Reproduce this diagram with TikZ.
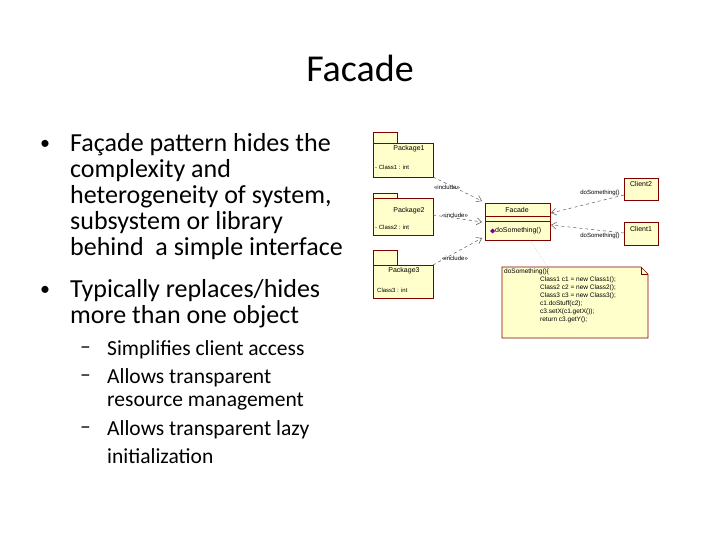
\documentclass[tikz,border=0pt]{standalone}
\usepackage{fontspec}
\setmainfont{Carlito}
\newfontfamily\umlfont{Liberation Sans}
\usetikzlibrary{arrows.meta}
\definecolor{umlfill}{RGB}{255,255,204}
\definecolor{umlline}{RGB}{128,0,0}
\tikzset{
  pkg/.style={draw=umlline,fill=umlfill,line width=0.6pt},
  lbl/.style={font=\umlfont\fontsize{6}{7}\selectfont,inner sep=0pt},
  dep/.style={draw=gray!70!black,dashed,line width=0.5pt,-{Straight Barb[open,length=5pt,width=7pt]}},
  txt/.style={anchor=west,inner sep=0pt,font=\fontsize{26}{30}\selectfont},
  sub/.style={anchor=west,inner sep=0pt,font=\fontsize{21.5}{25}\selectfont}
}
\begin{document}
\begin{tikzpicture}[x=1pt,y=-1pt]
\useasboundingbox (0,0) rectangle (720,540);
\node[font=\fontsize{38}{42}\selectfont] (title) at (360,68) {Facade};
% bullets
\node[txt,font=\fontsize{20}{24}\selectfont] (b1) at (40,145) {•};
\node[txt] (l1) at (70,145) {Façade pattern hides the};
\node[txt] (l2) at (70,171) {complexity and};
\node[txt] (l3) at (70,197) {heterogeneity of system,};
\node[txt] (l4) at (70,223) {subsystem or library};
\node[txt] (l5) at (70,249) {behind\ \ a simple interface};
\node[txt,font=\fontsize{20}{24}\selectfont] (b2) at (40,291) {•};
\node[txt] (l6) at (70,291) {Typically replaces/hides};
\node[txt] (l7) at (70,317) {more than one object};
\node[sub] (d1) at (80,350) {–};
\node[sub] (s1) at (107,350) {Simplifies client access};
\node[sub] (d2) at (80,378) {–};
\node[sub] (s2) at (107,378) {Allows transparent};
\node[sub] (s3) at (107,402) {resource management};
\node[sub] (d3) at (80,430) {–};
\node[sub] (s4) at (107,430) {Allows transparent lazy};
\node[sub] (s5) at (107,456) {initialization};
% packages
\draw[pkg] (373,132) rectangle (397,143);
\draw[pkg] (373,143) rectangle (433,177);
\node[lbl,font=\umlfont\fontsize{7}{8}\selectfont] (p1) at (409,149) {Package1};
\node[lbl,anchor=west] (c1) at (375,167) {- Class1 : int};
\coordinate (p1o) at (433,177);
\draw[pkg] (373,193) rectangle (397,198);
\draw[pkg] (373,198) rectangle (433,235);
\node[lbl,font=\umlfont\fontsize{7}{8}\selectfont] (p2) at (409,211) {Package2};
\node[lbl,anchor=west] (c2) at (375,227) {- Class2 : int};
\coordinate (p2o) at (433,215);
\draw[pkg] (373,250) rectangle (397,265);
\draw[pkg] (373,265) rectangle (433,298);
\node[lbl,font=\umlfont\fontsize{7}{8}\selectfont] (p3) at (404,271) {Package3};
\node[lbl,anchor=west] (c3) at (377,290) {Class3 : int};
\coordinate (p3o) at (433,265);
% facade
\draw[pkg] (485,203) rectangle (550,240);
\draw[umlline] (485,216) -- (550,216) (485,221) -- (550,221);
\node[lbl,font=\umlfont\fontsize{7}{8}\selectfont] (fa) at (517,210) {Facade};
\fill[violet] (490,231) -- (492.5,228.5) -- (495,231) -- (492.5,233.5) -- cycle;
\node[lbl,font=\umlfont\fontsize{7}{8}\selectfont,anchor=west] (op) at (495,231) {doSomething()};
% clients
\draw[pkg] (624,178) rectangle (658,200);
\node[lbl,font=\umlfont\fontsize{7}{8}\selectfont] (cl2) at (641,184) {Client2};
\draw[pkg] (624,222) rectangle (658,245);
\node[lbl,font=\umlfont\fontsize{7}{8}\selectfont] (cl1) at (641,229) {Client1};
% note
\draw[pkg] (502,267) -- (641,267) -- (648,274) -- (648,338) -- (502,338) -- cycle;
\draw[umlline] (641,267) -- (641,274) -- (648,274);
\node[lbl,font=\umlfont\fontsize{6.5}{8}\selectfont,anchor=north west,align=left] (nt) at (504,269)
 {doSomething()\{\\
 \hspace*{36pt}Class1 c1 = new Class1();\\
 \hspace*{36pt}Class2 c2 = new Class2();\\
 \hspace*{36pt}Class3 c3 = new Class3();\\
 \hspace*{36pt}c1.doStuff(c2);\\
 \hspace*{36pt}c3.setX(c1.getX());\\
 \hspace*{36pt}return c3.getY();};
% connectors
\draw[dep] (p1o) -- (482,201);
\node[lbl] at (447,187) {«include»};
\draw[dep] (p2o) -- (482,222);
\node[lbl] at (455,215) {«include»};
\draw[dep] (p3o) -- (482,238);
\node[lbl] at (455,258) {«include»};
\draw[dep] (624,195) -- (551,213);
\node[lbl] at (600,193) {doSomething()};
\draw[dep] (624,233) -- (551,225);
\node[lbl] at (600,236) {doSomething()};
\draw[gray!70!black,dotted] (530,240) -- (548,267);
\end{tikzpicture}
\end{document}
